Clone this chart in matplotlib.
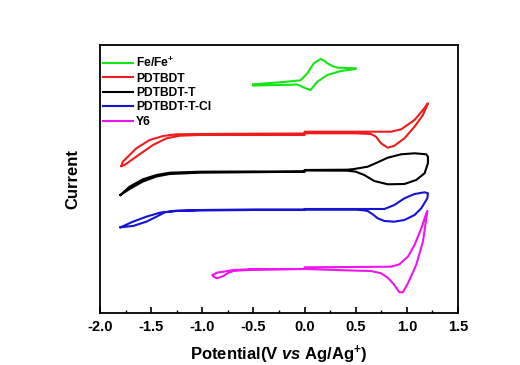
import matplotlib
matplotlib.use("Agg")
import matplotlib.pyplot as plt
from matplotlib.ticker import MultipleLocator

plt.rcParams["font.family"] = ["Liberation Sans", "DejaVu Sans"]
plt.rcParams["font.weight"] = "bold"
plt.rcParams["axes.unicode_minus"] = False
plt.rcParams["mathtext.fontset"] = "custom"
plt.rcParams["mathtext.rm"] = "Liberation Sans:bold"
plt.rcParams["mathtext.bf"] = "Liberation Sans:bold"
plt.rcParams["mathtext.it"] = "Liberation Sans:italic:bold"
plt.rcParams["mathtext.default"] = "bf"

# potential (V) and current (arb. units), each loop = forward + reverse scan
fe_v = [-0.504, -0.236, -0.039, 0.027, 0.06, 0.091, 0.157, 0.19, 0.223, 0.27, 0.322, 0.501,
        0.501, 0.354, 0.223, 0.125, 0.059, 0.010, -0.072, -0.236, -0.504]
fe_i = [228.7, 230.7, 232.7, 239.7, 245, 249.7, 254, 252.5, 249.7, 247, 245.3, 244.7,
        244, 242, 238, 231.3, 223, 224.7, 228.5, 228, 227.5]

red_v = [-1.79, -1.777, -1.645, -1.514, -1.383, -1.252, -1.023, -0.5, 0.0, 0.0, 0.5,
         0.846, 0.944, 1.075, 1.157, 1.206,
         1.157, 1.075, 0.976, 0.878, 0.813, 0.747, 0.698, 0.649, 0.5, 0.0, 0.0,
         -0.5, -1.023, -1.219, -1.350, -1.482, -1.613, -1.760, -1.79]
red_i = [147, 151.3, 164.7, 173, 177, 178.7, 179, 179.3, 179.5, 181.3, 181.3,
         181.3, 183.7, 193, 203, 209.7,
         198, 186.3, 174.7, 167.3, 165.3, 169.7, 176.3, 179, 179.7, 179.7, 178,
         178, 178, 177.3, 174.7, 168, 158.7, 148, 147]

blk_v = [-1.80, -1.711, -1.580, -1.448, -1.318, -1.023, -0.5, 0.0, 0.0, 0.420,
         0.485, 0.617, 0.715, 0.813, 0.944, 1.075, 1.190, 1.206, 1.206,
         1.173, 1.091, 0.976, 0.813, 0.681, 0.583, 0.501, 0.420, 0.0, 0.0,
         -0.5, -1.023, -1.318, -1.448, -1.580, -1.711, -1.80]
blk_i = [118, 126.3, 133.7, 138, 140.3, 141.3, 141.5, 141.5, 143, 143.3,
         144, 146.3, 150.7, 155.3, 158.7, 159.7, 158.7, 156.3, 149.7,
         139.7, 133, 129, 128.7, 132, 138, 141.3, 142.3, 142.5, 141.3,
         140.8, 140.3, 139, 136.5, 131.5, 124, 118]

blu_v = [-1.80, -1.678, -1.547, -1.416, -1.252, -1.023, -0.5, 0.0, 0.0, 0.5,
         0.780, 0.878, 0.976, 1.075, 1.173, 1.206, 1.2,
         1.141, 1.075, 0.976, 0.878, 0.780, 0.715, 0.666, 0.617, 0.551, 0.5,
         0.0, 0.0, -0.5, -1.023, -1.252, -1.367, -1.448, -1.547, -1.678, -1.80]
blu_i = [85.7, 91.3, 96.3, 100.3, 102.3, 103, 103.5, 103.5, 104, 104,
         104, 108, 114.7, 119, 120.7, 119.7, 114.7,
         104.7, 98, 93, 91.3, 92, 94.7, 98.7, 102, 103, 103.3,
         103.3, 103, 103, 102.5, 102, 100.7, 96.3, 91.3, 87, 85.7]

mag_v = [-0.898, -0.858, -0.793, -0.695, -0.531, 0.0, 0.0, 0.5, 0.846, 0.927,
         1.010, 1.075, 1.141, 1.190, 1.2,
         1.157, 1.091, 1.010, 0.961, 0.927, 0.878, 0.813, 0.747, 0.649, 0.518,
         0.0, -0.531, -0.695, -0.744, -0.793, -0.858, -0.891, -0.898]
mag_i = [38, 40.3, 41.3, 43, 43.7, 44, 45.7, 46, 46.3, 48.7,
         56.3, 68, 84.7, 99.7, 102,
         71.3, 48, 29.7, 20.7, 20.7, 28, 35.3, 39.7, 42, 42.3,
         44, 43.3, 42, 40.3, 37, 34.7, 36.3, 38]

labels = [r"Fe/Fe$^{+}$", "PDTBDT", "PDTBDT-T", "PDTBDT-T-Cl", "Y6"]
colors = ["#14e614", "#ee1c1c", "#000000", "#1414d2", "#f014f0"]

fig = plt.figure(figsize=(5.2, 3.65), dpi=100)
ax = fig.add_axes([0.1923, 0.1425, 0.6885, 0.7342])

curves = [(fe_v, fe_i), (red_v, red_i), (blk_v, blk_i), (blu_v, blu_i), (mag_v, mag_i)]
for (v, i), lab, c in zip(curves, labels, colors):
    ax.plot(v, i, color=c, lw=1.5, label=lab)

ax.set_xlim(-2.0, 1.5)
ax.set_ylim(0, 268)
ax.xaxis.set_major_locator(MultipleLocator(0.5))
ax.xaxis.set_minor_locator(MultipleLocator(0.25))
ax.xaxis.set_major_formatter(plt.FormatStrFormatter("%.1f"))
ax.tick_params(axis="x", which="major", direction="in", length=4, width=1.2,
               labelsize=10.5, pad=5)
ax.tick_params(axis="x", which="minor", direction="in", length=2.5, width=1.0)
ax.set_yticks([])
for s in ax.spines.values():
    s.set_linewidth(1.3)

ax.set_xlabel(r"Potential(V $\mathit{vs}$ Ag/Ag$^{+}$)", fontsize=12, fontweight="bold", labelpad=7)
ax.set_ylabel("Current", fontsize=12, fontweight="bold", labelpad=14)

ax.legend(loc="upper left", frameon=False, fontsize=8.7, handlelength=2.5,
          handletextpad=0.25, labelspacing=0.2, borderaxespad=0, borderpad=0.4,
          bbox_to_anchor=(-0.005, 0.978))

fig.savefig("out.png", dpi=100)
